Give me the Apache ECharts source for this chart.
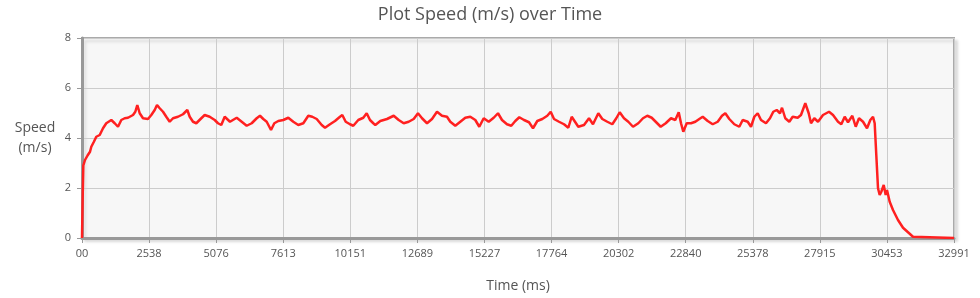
<!DOCTYPE html>
<html>
<head>
<meta charset="utf-8">
<script src="https://cdn.jsdelivr.net/npm/echarts@6/dist/echarts.min.js"></script>
<style>html,body{margin:0;padding:0;background:#fff}#c{width:980px;height:298px}</style>
</head>
<body>
<div id="c"></div>
<script>
const timeMs = [
0,25,50,114,210,303,352,450,541,670,
795,919,1109,1237,1362,1487,1615,1740,1930,2017,
2092,2183,2308,2497,2622,2750,2838,2940,3065,3189,
3318,3443,3632,3821,3984,4075,4200,4324,4514,4642,
4831,5021,5145,5270,5399,5599,5853,6042,6231,6420,
6610,6734,6859,6988,7151,7276,7427,7616,7805,7994,
8183,8373,8562,8713,8880,9069,9194,9383,9572,9761,
9848,9977,10140,10264,10453,10643,10771,10896,11021,11097,
11286,11539,11793,11982,12171,12360,12549,12712,12864,13053,
13242,13431,13620,13809,13934,14123,14313,14502,14691,14880,
15031,15198,15387,15576,15739,15890,16079,16242,16393,16545,
16723,16912,17063,17226,17415,17604,17733,17858,18047,18236,
18399,18527,18652,18777,18993,19182,19333,19534,19685,19874,
20063,20215,20343,20506,20669,20847,21047,21225,21387,21554,
21705,21894,22084,22284,22447,22576,22663,22749,22878,23041,
23204,23355,23484,23673,23862,24051,24214,24339,24490,24679,
24868,24997,25186,25311,25436,25564,25689,25878,26029,26154,
26283,26408,26484,26608,26760,26888,27077,27202,27365,27494,
27581,27706,27846,28035,28262,28414,28603,28728,28856,28981,
29144,29273,29397,29549,29700,29825,29927,29990,30051,30116,
30180,30241,30332,30407,30456,30558,30683,30872,31062,31251,
31440,31504,32991
];
const speed = [
0,1.6,2.9,3.12,3.3,3.45,3.65,3.85,4.05,4.12,
4.39,4.59,4.72,4.59,4.45,4.72,4.79,4.81,4.92,5.05,
5.32,4.99,4.79,4.76,4.92,5.12,5.32,5.19,5.05,4.85,
4.65,4.79,4.85,4.95,5.12,4.85,4.65,4.59,4.79,4.92,
4.85,4.72,4.59,4.52,4.85,4.65,4.81,4.65,4.49,4.59,
4.79,4.89,4.76,4.65,4.32,4.59,4.68,4.72,4.81,4.65,
4.52,4.59,4.89,4.85,4.76,4.52,4.41,4.55,4.68,4.85,
4.92,4.65,4.55,4.49,4.72,4.81,4.99,4.72,4.59,4.52,
4.68,4.76,4.89,4.72,4.59,4.65,4.76,4.99,4.79,4.59,
4.76,5.05,4.89,4.85,4.65,4.49,4.65,4.81,4.85,4.72,
4.45,4.79,4.65,4.81,4.99,4.72,4.55,4.49,4.68,4.83,
4.72,4.63,4.39,4.68,4.76,4.89,5.05,4.76,4.65,4.55,
4.41,4.85,4.65,4.45,4.52,4.79,4.55,4.99,4.76,4.65,
4.55,4.79,5.03,4.79,4.65,4.45,4.59,4.79,4.89,4.81,
4.65,4.45,4.59,4.79,4.72,5.03,4.59,4.25,4.59,4.59,
4.65,4.76,4.85,4.68,4.55,4.65,4.89,4.99,4.76,4.55,
4.45,4.72,4.65,4.45,4.85,4.99,4.72,4.59,4.79,5.05,
5.12,4.99,5.21,4.79,4.65,4.85,4.81,4.92,5.39,4.99,
4.59,4.79,4.65,4.92,5.05,4.92,4.65,4.55,4.85,4.63,
4.89,4.45,4.79,4.65,4.39,4.72,4.85,4.59,3.32,1.99,
1.72,1.85,2.12,1.72,1.92,1.45,1.12,0.72,0.41,0.23,
0.05,0,0
];
const xTickLabels = ['00','2538','5076','7613','10151','12689','15227','17764','20302','22840','25378','27915','30453','32991'];
const yTickLabels = ['0','2','4','6','8'];

const xMax = 32991;
const xInterval = xMax / (xTickLabels.length - 1);
const points = [];
for (let i = 0; i < Math.min(timeMs.length, speed.length); i++) points.push([timeMs[i], speed[i]]);

const FONT = 'Open Sans';
const chart = echarts.init(document.getElementById('c'), null, {renderer: 'canvas'});
chart.setOption({
  animation: false,
  title: {
    text: 'Plot Speed (m/s) over Time',
    left: 'center', top: 1,
    textStyle: {fontFamily: FONT, fontSize: 18, fontWeight: 'normal', color: '#555'}
  },
  grid: {
    left: 82, right: 26, top: 38, bottom: 60,
    show: true, backgroundColor: '#f7f7f7', borderColor: '#aaa', borderWidth: 2,
    shadowColor: 'rgba(0,0,0,0.12)', shadowBlur: 3, shadowOffsetX: 3, shadowOffsetY: 3
  },
  xAxis: {
    type: 'value', min: 0, max: xMax, interval: xInterval,
    name: 'Time (ms)', nameLocation: 'middle', nameGap: 41,
    nameTextStyle: {fontFamily: FONT, fontSize: 14, color: '#555'},
    axisLine: {show: true, lineStyle: {color: '#999', width: 3}},
    axisTick: {show: true, length: 5, lineStyle: {color: '#999'}},
    axisLabel: {
      fontFamily: FONT, fontSize: 11, color: '#555', margin: 10,
      formatter: v => { const k = Math.round(v / xInterval); return xTickLabels[k] !== undefined ? xTickLabels[k] : ''; }
    },
    splitLine: {show: true, lineStyle: {color: '#ccc', width: 1}}
  },
  yAxis: {
    type: 'value', min: 0, max: 8, interval: 2,
    name: 'Speed\n(m/s)', nameLocation: 'middle', nameRotate: 0, nameGap: 47,
    nameTextStyle: {fontFamily: FONT, fontSize: 14, color: '#555', align: 'center', lineHeight: 20},
    axisLine: {show: true, lineStyle: {color: '#999', width: 3}},
    axisTick: {show: true, length: 5, lineStyle: {color: '#999'}},
    axisLabel: {
      fontFamily: FONT, fontSize: 11, color: '#555', margin: 11,
      formatter: v => { const k = Math.round(v / 2); return yTickLabels[k] !== undefined ? yTickLabels[k] : ''; }
    },
    splitLine: {show: true, lineStyle: {color: '#ccc', width: 1}}
  },
  series: [{
    type: 'line', data: points, showSymbol: false, symbol: 'none',
    lineStyle: {color: '#ff2020', width: 2.5}, z: 3
  }]
});
</script>
</body>
</html>
